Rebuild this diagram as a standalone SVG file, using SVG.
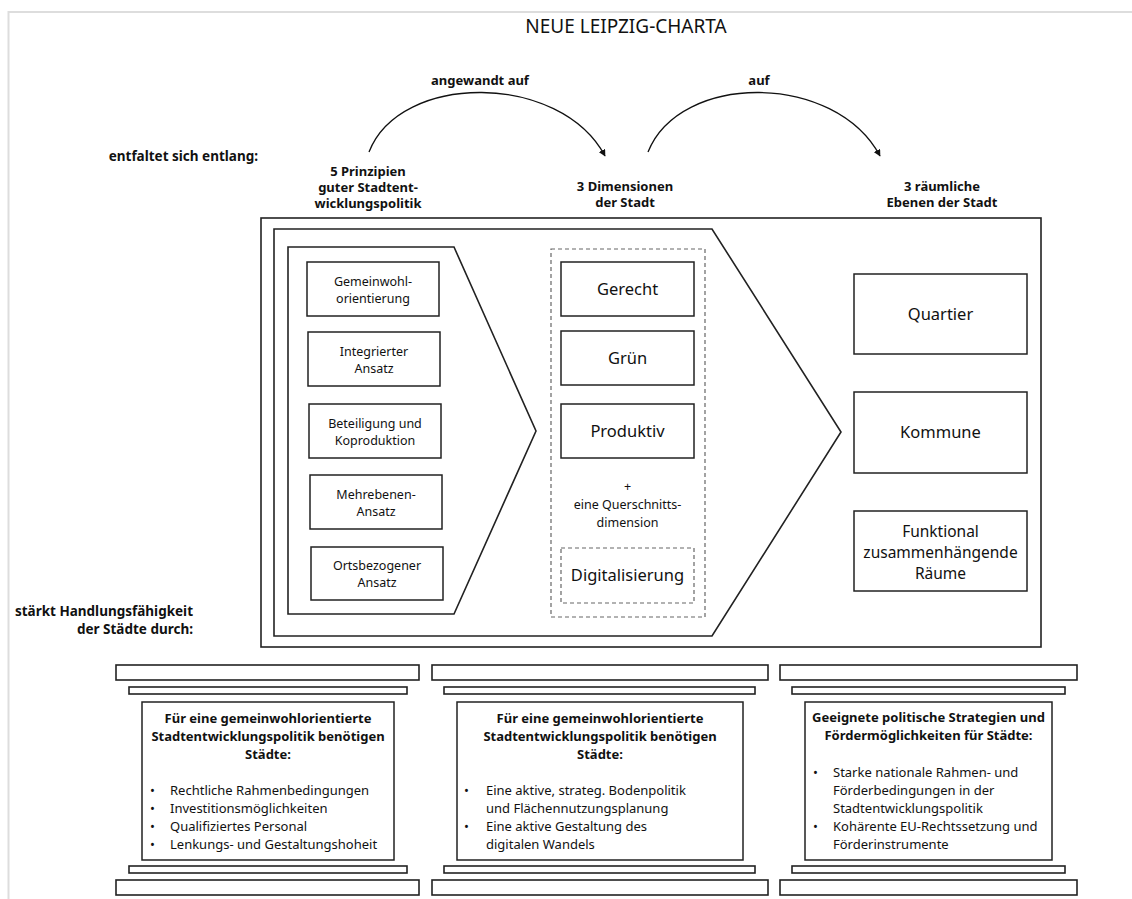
<svg xmlns="http://www.w3.org/2000/svg" width="1132" height="899" viewBox="0 0 1132 899">
<style>
text{font-family:"Noto Sans","Open Sans","Liberation Sans",sans-serif;fill:#111}
.t{font-size:19px;text-anchor:middle}
.h{font-size:13px;font-weight:bold;text-anchor:middle}
.hr{font-size:13.5px;font-weight:bold;text-anchor:end}
.p{font-size:12.5px;text-anchor:middle}
.d{font-size:16.5px;text-anchor:middle}
.d2{font-size:15.5px;text-anchor:middle}
.pt{font-size:13px;font-weight:bold;text-anchor:middle}
.pb{font-size:13px}
.box{fill:#fff;stroke:#222;stroke-width:1.5}
.frame{fill:none;stroke:#222;stroke-width:1.6}
.dash{fill:none;stroke:#666;stroke-width:1.2;stroke-dasharray:4 3}
.slab{fill:#fff;stroke:#222;stroke-width:1.6}
.arc{fill:none;stroke:#111;stroke-width:1.3}
</style>
<defs>
<marker id="ah" viewBox="0 0 10 10" refX="9" refY="5" markerWidth="7" markerHeight="7" orient="auto" markerUnits="userSpaceOnUse">
<path d="M0,0 L10,5 L0,10 z" fill="#111"/>
</marker>
</defs>
<rect width="1132" height="899" fill="#fff"/>
<path d="M8.5,899 V12 H1132" fill="none" stroke="#ddd" stroke-width="2"/>

<text class="t" x="626" y="33">NEUE LEIPZIG-CHARTA</text>

<g id="labels">
<text class="hr" x="258" y="161">entfaltet sich entlang:</text>
<text class="hr" x="193" y="616">stärkt Handlungsfähigkeit</text>
<text class="hr" x="193" y="634">der Städte durch:</text>
</g>

<g id="col-headers">
<text class="h" x="368" y="175.5">5 Prinzipien</text>
<text class="h" x="368" y="191.5">guter Stadtent-</text>
<text class="h" x="368" y="207.5">wicklungspolitik</text>
<text class="h" x="625" y="191">3 Dimensionen</text>
<text class="h" x="625" y="207">der Stadt</text>
<text class="h" x="942" y="191">3 räumliche</text>
<text class="h" x="942" y="207">Ebenen der Stadt</text>
</g>

<g id="connectors">
<path class="arc" d="M369,152 C400,72 560,72 605,156" marker-end="url(#ah)"/>
<path class="arc" d="M648,152 C680,72 835,72 880,156" marker-end="url(#ah)"/>
<text class="h" x="480" y="85">angewandt auf</text>
<text class="h" x="759" y="85">auf</text>
</g>

<g id="outer-box">
<rect class="frame" x="261" y="218" width="780" height="429"/>
<polygon class="frame" points="274,229 712,229 841,432 712,636 274,636"/>
</g>

<g id="principles">
<polygon class="frame" points="288,247 454,247 536,431 454,614 288,614"/>
<g id="p1"><rect class="box" x="307" y="262" width="132" height="54"/>
<text class="p" x="373" y="286">Gemeinwohl-</text><text class="p" x="373" y="303">orientierung</text></g>
<g id="p2"><rect class="box" x="308" y="332" width="132" height="54"/>
<text class="p" x="374" y="356">Integrierter</text><text class="p" x="374" y="373">Ansatz</text></g>
<g id="p3"><rect class="box" x="309" y="404" width="132" height="54"/>
<text class="p" x="375" y="428">Beteiligung und</text><text class="p" x="375" y="445">Koproduktion</text></g>
<g id="p4"><rect class="box" x="310" y="475" width="132" height="54"/>
<text class="p" x="376" y="499">Mehrebenen-</text><text class="p" x="376" y="516">Ansatz</text></g>
<g id="p5"><rect class="box" x="311" y="547" width="132" height="53"/>
<text class="p" x="377" y="570">Ortsbezogener</text><text class="p" x="377" y="587">Ansatz</text></g>
</g>

<g id="dimensions">
<rect class="dash" x="551" y="249" width="154" height="368"/>
<g id="d1"><rect class="box" x="561" y="262" width="133" height="54"/><text class="d" x="627.5" y="295">Gerecht</text></g>
<g id="d2"><rect class="box" x="561" y="331" width="133" height="54"/><text class="d" x="627.5" y="364">Grün</text></g>
<g id="d3"><rect class="box" x="561" y="404" width="133" height="54"/><text class="d" x="627.5" y="437">Produktiv</text></g>
<text class="p" x="627.5" y="491">+</text>
<text class="p" x="627.5" y="509">eine Querschnitts-</text>
<text class="p" x="627.5" y="527">dimension</text>
<g id="d4"><rect class="dash" x="561" y="548" width="133" height="55"/><text class="d" x="627.5" y="581">Digitalisierung</text></g>
</g>

<g id="levels">
<g id="l1"><rect class="box" x="854" y="274" width="173" height="80"/><text class="d" x="940.5" y="320">Quartier</text></g>
<g id="l2"><rect class="box" x="854" y="392" width="173" height="81"/><text class="d" x="940.5" y="438">Kommune</text></g>
<g id="l3"><rect class="box" x="854" y="511" width="173" height="80"/>
<text class="d2" x="940.5" y="537">Funktional</text><text class="d2" x="940.5" y="558">zusammenhängende</text><text class="d2" x="940.5" y="579">Räume</text></g>
</g>

<g id="pillar1">
<rect class="slab" x="116" y="665" width="303" height="15"/>
<rect class="slab" x="129" y="687" width="278" height="7"/>
<rect class="box" x="142" y="702" width="252" height="158"/>
<rect class="slab" x="129" y="866" width="278" height="7"/>
<rect class="slab" x="116" y="880" width="303" height="15"/>
<text class="pt" x="268" y="723">Für eine gemeinwohlorientierte</text>
<text class="pt" x="268" y="741">Stadtentwicklungspolitik benötigen</text>
<text class="pt" x="268" y="759">Städte:</text>
<text class="pb" x="150" y="795">•</text><text class="pb" x="170" y="795">Rechtliche Rahmenbedingungen</text>
<text class="pb" x="150" y="813">•</text><text class="pb" x="170" y="813">Investitionsmöglichkeiten</text>
<text class="pb" x="150" y="831">•</text><text class="pb" x="170" y="831">Qualifiziertes Personal</text>
<text class="pb" x="150" y="849">•</text><text class="pb" x="170" y="849">Lenkungs- und Gestaltungshoheit</text>
</g>

<g id="pillar2">
<rect class="slab" x="432" y="665" width="336" height="15"/>
<rect class="slab" x="444" y="687" width="311" height="7"/>
<rect class="box" x="457" y="702" width="286" height="158"/>
<rect class="slab" x="444" y="866" width="311" height="7"/>
<rect class="slab" x="432" y="880" width="336" height="15"/>
<text class="pt" x="600" y="723">Für eine gemeinwohlorientierte</text>
<text class="pt" x="600" y="741">Stadtentwicklungspolitik benötigen</text>
<text class="pt" x="600" y="759">Städte:</text>
<text class="pb" x="464" y="795">•</text><text class="pb" x="486" y="795">Eine aktive, strateg. Bodenpolitik</text>
<text class="pb" x="486" y="813">und Flächennutzungsplanung</text>
<text class="pb" x="464" y="831">•</text><text class="pb" x="486" y="831">Eine aktive Gestaltung des</text>
<text class="pb" x="486" y="849">digitalen Wandels</text>
</g>

<g id="pillar3">
<rect class="slab" x="780" y="665" width="297" height="15"/>
<rect class="slab" x="792" y="687" width="273" height="7"/>
<rect class="box" x="805" y="702" width="247" height="158"/>
<rect class="slab" x="792" y="866" width="273" height="7"/>
<rect class="slab" x="780" y="880" width="297" height="15"/>
<text class="pt" x="928.5" y="722">Geeignete politische Strategien und</text>
<text class="pt" x="928.5" y="740">Fördermöglichkeiten für Städte:</text>
<text class="pb" x="813" y="777">•</text><text class="pb" x="833" y="777">Starke nationale Rahmen- und</text>
<text class="pb" x="833" y="795">Förderbedingungen in der</text>
<text class="pb" x="833" y="813">Stadtentwicklungspolitik</text>
<text class="pb" x="813" y="831">•</text><text class="pb" x="833" y="831">Kohärente EU-Rechtssetzung und</text>
<text class="pb" x="833" y="849">Förderinstrumente</text>
</g>
</svg>
